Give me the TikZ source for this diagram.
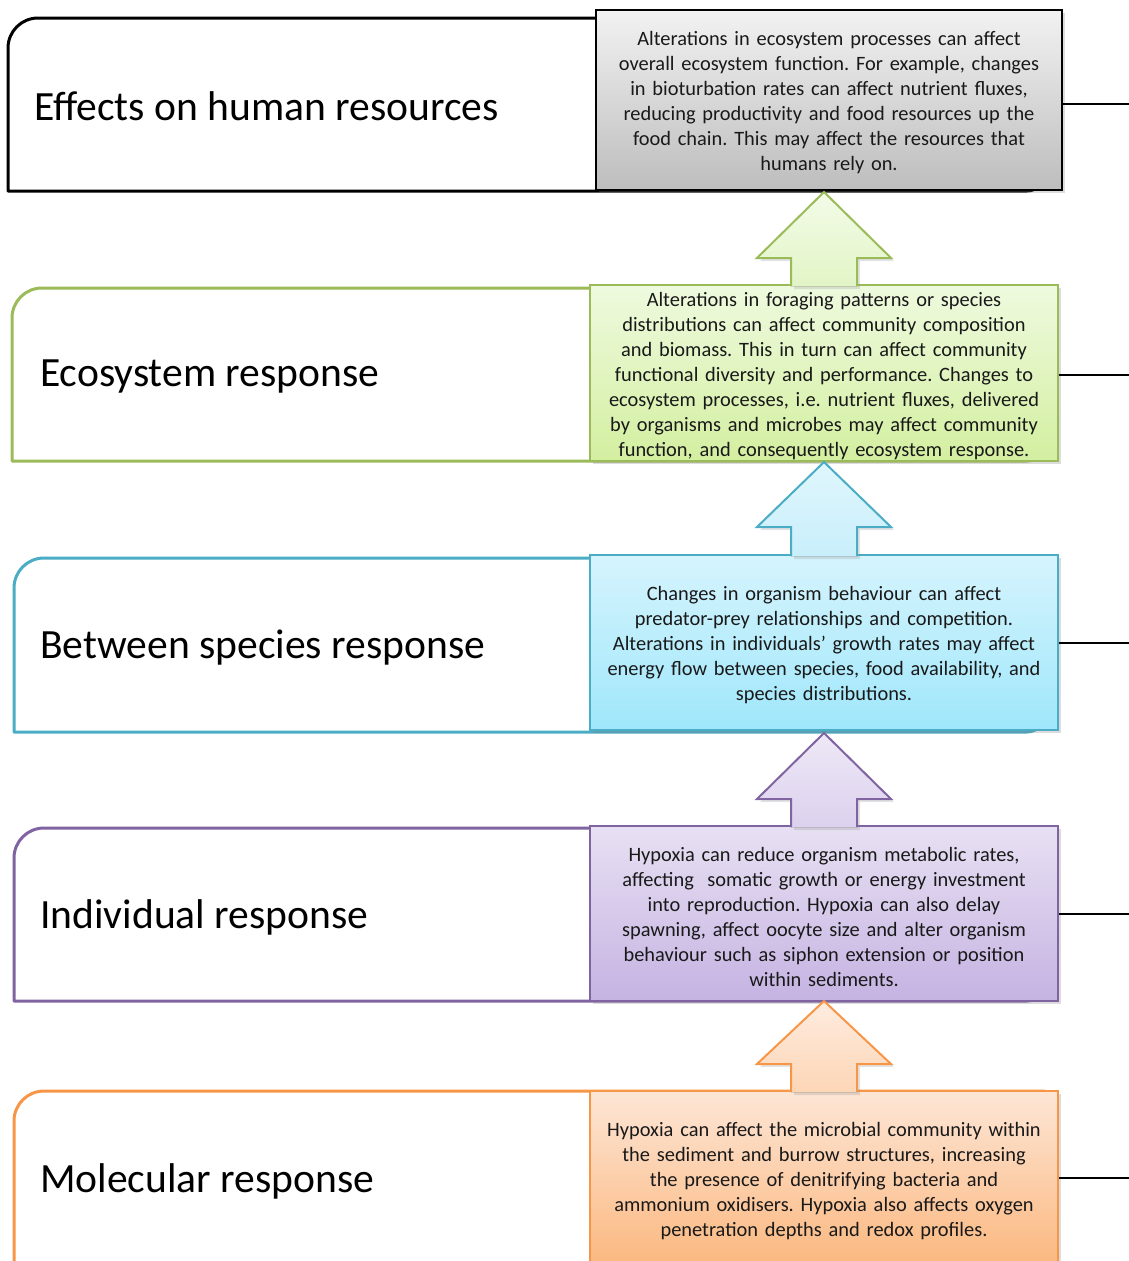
\documentclass[tikz,border=0pt]{standalone}
\usepackage{fontspec}
\setmainfont{Carlito}
\usetikzlibrary{shadows}
\frenchspacing
\definecolor{cBlack}{HTML}{000000}
\definecolor{cGreen}{HTML}{9BBB59}
\definecolor{cBlue}{HTML}{4BACC6}
\definecolor{cPurple}{HTML}{8064A2}
\definecolor{cOrange}{HTML}{F79646}
\definecolor{gTop}{HTML}{F2F2F2}\definecolor{gBot}{HTML}{BDBDBD}
\definecolor{grTop}{HTML}{EFFADF}\definecolor{grBot}{HTML}{D3EFA0}
\definecolor{blTop}{HTML}{D6F4FD}\definecolor{blBot}{HTML}{9FE7FB}
\definecolor{puTop}{HTML}{E8E0F3}\definecolor{puBot}{HTML}{C5B3E2}
\definecolor{orTop}{HTML}{FDE6D6}\definecolor{orBot}{HTML}{FBB87F}
\definecolor{agrTop}{HTML}{F3FBE8}\definecolor{agrBot}{HTML}{E2F5C6}
\definecolor{ablTop}{HTML}{E0F6FD}\definecolor{ablBot}{HTML}{C8EFFB}
\definecolor{apuTop}{HTML}{EEE8F6}\definecolor{apuBot}{HTML}{DCD1EE}
\definecolor{aorTop}{HTML}{FEECE0}\definecolor{aorBot}{HTML}{FDD6B6}
\tikzset{
  tabline/.style={line width=3pt, fill=white, line join=round},
  boxnode/.style={rectangle, line width=2pt, inner sep=0pt,
     drop shadow={opacity=0.28, shadow xshift=3pt, shadow yshift=-3pt}},
  boxtext/.style={text width=468pt, align=center, inner sep=0pt,
     font=\fontsize{20.4}{25}\selectfont, text=black!90, yshift=-3pt},
  labelnode/.style={anchor=west, inner sep=0pt, font=\fontsize{41.6}{50}\selectfont},
  sideline/.style={line width=1.5pt, black},
  arrowfill/.style={drop shadow={opacity=0.22, shadow xshift=3pt, shadow yshift=-3pt}},
  arrowedge/.style={line width=2pt, line join=miter}
}
\begin{document}
\begin{tikzpicture}[x=1pt,y=-1pt]
\useasboundingbox (0,0) rectangle (1128,1261);

% tabs
\draw[tabline, draw=cBlack] (8,191) [rounded corners=30]-- (8,18) [sharp corners]-- (1045,18) [rounded corners=18]-- (1045,191) [sharp corners]-- cycle;
\draw[tabline, draw=cGreen] (12,461) [rounded corners=30]-- (12,288) [sharp corners]-- (1045,288) [rounded corners=18]-- (1045,461) [sharp corners]-- cycle;
\draw[tabline, draw=cBlue] (14,732) [rounded corners=30]-- (14,558) [sharp corners]-- (1045,558) [rounded corners=18]-- (1045,732) [sharp corners]-- cycle;
\draw[tabline, draw=cPurple] (14,1001) [rounded corners=30]-- (14,828) [sharp corners]-- (1045,828) [rounded corners=18]-- (1045,1001) [sharp corners]-- cycle;
\draw[tabline, draw=cOrange] (14,1266) [rounded corners=30]-- (14,1091) [sharp corners]-- (1045,1091) [rounded corners=18]-- (1045,1266) [sharp corners]-- cycle;

% labels
\node[labelnode] (l1) at (34,106) {Effects on human resources};
\node[labelnode] (l2) at (40,377) {Ecosystem response};
\node[labelnode] (l3) at (40,648) {Between species response};
\node[labelnode] (l4) at (40,917) {Individual response};
\node[labelnode] (l5) at (40,1181) {Molecular response};

% side connectors' free ends
\coordinate (e1) at (1130,104);
\coordinate (e2) at (1130,375);
\coordinate (e3) at (1130,643);
\coordinate (e4) at (1130,914);
\coordinate (e5) at (1130,1178);

% boxes
\node[boxnode, draw=black, top color=gTop, bottom color=gBot, minimum width=466pt, minimum height=180pt] (b1) at (829,100) {};
\node[boxnode, draw=cGreen, top color=grTop, bottom color=grBot, minimum width=468pt, minimum height=176pt] (b2) at (824,373) {};
\node[boxnode, draw=cBlue, top color=blTop, bottom color=blBot, minimum width=468pt, minimum height=175pt] (b3) at (824,642.5) {};
\node[boxnode, draw=cPurple, top color=puTop, bottom color=puBot, minimum width=468pt, minimum height=175pt] (b4) at (824,913.5) {};
\node[boxnode, draw=cOrange, top color=orTop, bottom color=orBot, minimum width=468pt, minimum height=174pt] (b5) at (824,1178) {};

% box texts
\node[boxtext] (t1) at (b1.center)
 {Alterations in ecosystem processes can affect\\ overall ecosystem function. For example, changes\\ in bioturbation rates can affect nutrient fluxes,\\ reducing productivity and food resources up the\\ food chain. This may affect the resources that\\ humans rely on.};
\node[boxtext] (t2) at (b2.center)
 {Alterations in foraging patterns or species\\ distributions can affect community composition\\ and biomass. This in turn can affect community\\ functional diversity and performance. Changes to\\ ecosystem processes, i.e. nutrient fluxes, delivered\\ by organisms and microbes may affect community\\ function, and consequently ecosystem response.};
\node[boxtext] (t3) at (b3.center)
 {Changes in organism behaviour can affect\\ predator-prey relationships and competition.\\ Alterations in individuals’ growth rates may affect\\ energy flow between species, food availability, and\\ species distributions.};
\node[boxtext] (t4) at (b4.center)
 {Hypoxia can reduce organism metabolic rates,\\ affecting\ \ somatic growth or energy investment\\ into reproduction. Hypoxia can also delay\\ spawning, affect oocyte size and alter organism\\ behaviour such as siphon extension or position\\ within sediments.};
\node[boxtext] (t5) at (b5.center)
 {Hypoxia can affect the microbial community within\\ the sediment and burrow structures, increasing\\ the presence of denitrifying bacteria and\\ ammonium oxidisers. Hypoxia also affects oxygen\\ penetration depths and redox profiles.};

% side lines
\draw[sideline] (b1.east |- e1) -- (e1);
\draw[sideline] (b2.east |- e2) -- (e2);
\draw[sideline] (b3.east |- e3) -- (e3);
\draw[sideline] (b4.east |- e4) -- (e4);
\draw[sideline] (b5.east |- e5) -- (e5);

% block arrows (lower box -> upper box)
% arrow 1 : b2 -> b1
\fill[arrowfill, top color=agrTop, bottom color=agrBot] (824,192) -- (891,258) -- (857,258) -- (857,286) -- (791,286) -- (791,258) -- (757,258) -- cycle;
\draw[arrowedge, cGreen] (857,286) -- (857,258) -- (891,258) -- (824,192) -- (757,258) -- (791,258) -- (791,286);
% arrow 2 : b3 -> b2
\fill[arrowfill, top color=ablTop, bottom color=ablBot] (824,462) -- (891,527) -- (857,527) -- (857,556) -- (791,556) -- (791,527) -- (757,527) -- cycle;
\draw[arrowedge, cBlue] (857,556) -- (857,527) -- (891,527) -- (824,462) -- (757,527) -- (791,527) -- (791,556);
% arrow 3 : b4 -> b3
\fill[arrowfill, top color=apuTop, bottom color=apuBot] (824,733) -- (891,799) -- (857,799) -- (857,827) -- (791,827) -- (791,799) -- (757,799) -- cycle;
\draw[arrowedge, cPurple] (857,827) -- (857,799) -- (891,799) -- (824,733) -- (757,799) -- (791,799) -- (791,827);
% arrow 4 : b5 -> b4
\fill[arrowfill, top color=aorTop, bottom color=aorBot] (824,1001) -- (891,1064) -- (857,1064) -- (857,1092) -- (791,1092) -- (791,1064) -- (757,1064) -- cycle;
\draw[arrowedge, cOrange] (857,1092) -- (857,1064) -- (891,1064) -- (824,1001) -- (757,1064) -- (791,1064) -- (791,1092);
\end{tikzpicture}
\end{document}
